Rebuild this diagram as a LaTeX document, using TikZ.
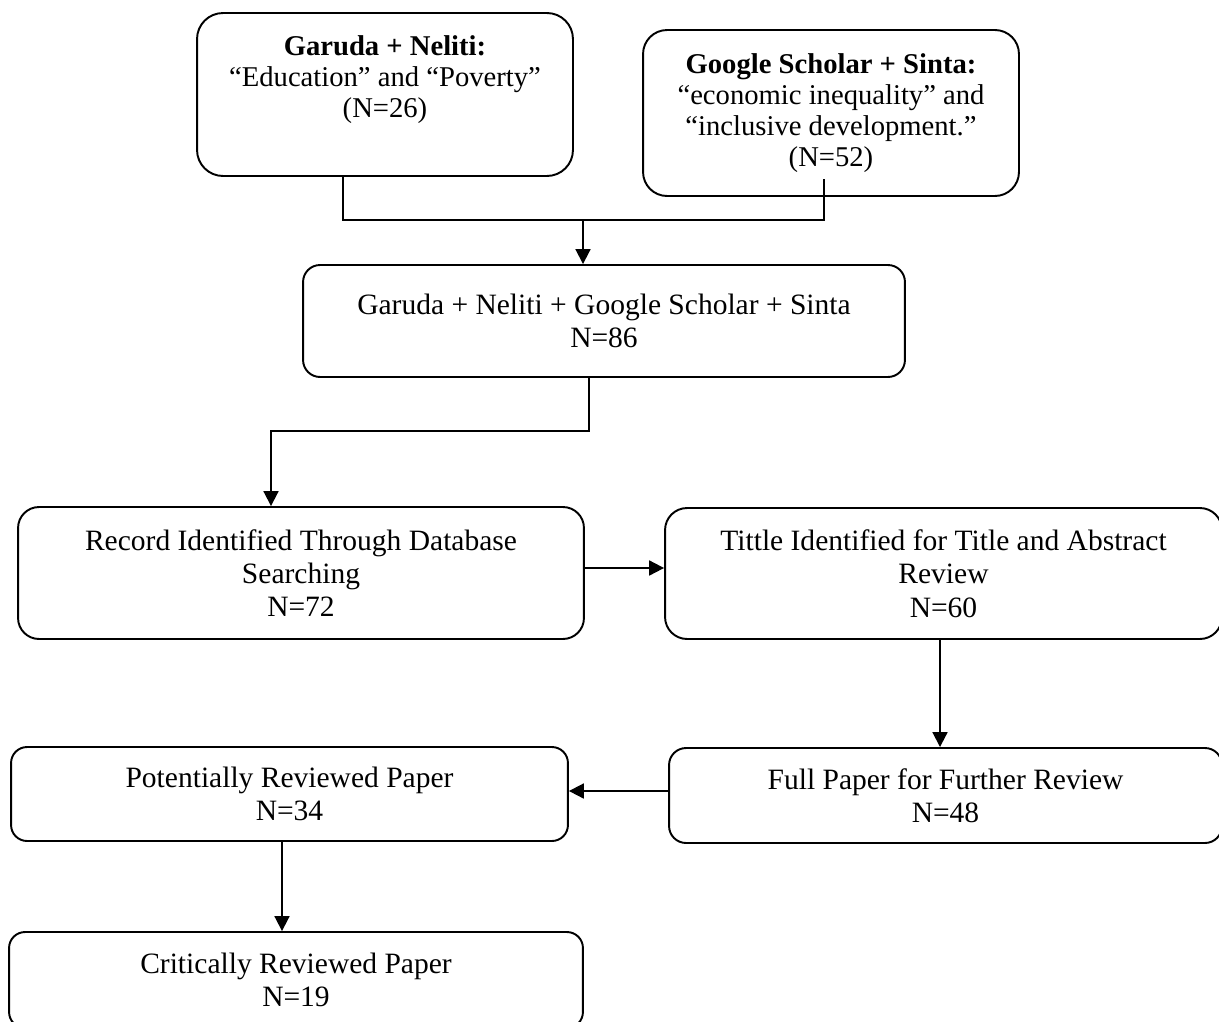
\documentclass[tikz,border=0pt]{standalone}
\usepackage{fontspec}
\setmainfont{Liberation Serif}
\usetikzlibrary{arrows.meta,calc}
\begin{document}
\begin{tikzpicture}[x=0.02cm,y=-0.02cm,
  box/.style={draw, line width=1.1pt, align=center, inner sep=0pt,
    font=\fontsize{16.8}{19}\selectfont},
  topbox/.style={box, font=\fontsize{16.3}{17.6}\selectfont},
  txt/.style={align=center, inner sep=0pt, font=\fontsize{16.3}{17.6}\selectfont},
  conn/.style={line width=1.1pt},
  arr/.style={conn, -{Triangle[length=8.5pt,width=8.5pt]}}]
\useasboundingbox (0,0) rectangle (1219,1021);
\clip (0,0) rectangle (1219,1021);

% boxes
\node[topbox, rounded corners=0.52cm, minimum width=7.52cm, minimum height=3.26cm] (garuda) at (385,94.5) {};
\node[txt] (garudatext) at (385,80) {\textbf{Garuda + Neliti:}\\“Education” and “Poverty”\\(N=26)};
\node[topbox, rounded corners=0.48cm, minimum width=7.52cm, minimum height=3.32cm] (google) at (831,113)
  {\textbf{Google Scholar + Sinta:}\\“economic inequality” and\\“inclusive development.”\\(N=52)};
\node[box, rounded corners=0.34cm, minimum width=12.04cm, minimum height=2.24cm] (comb) at (604,321)
  {Garuda + Neliti + Google Scholar + Sinta\\N=86};
\node[box, rounded corners=0.42cm, minimum width=11.32cm, minimum height=2.64cm] (record) at (301,573)
  {Record Identified Through Database\\Searching\\N=72};
\node[box, rounded corners=0.44cm, minimum width=11.14cm, minimum height=2.62cm] (tittle) at (943.5,573.5)
  {Tittle Identified for Title and Abstract\\Review\\N=60};
\node[box, rounded corners=0.34cm, minimum width=11.06cm, minimum height=1.9cm] (full) at (945.5,795.5)
  {Full Paper for Further Review\\N=48};
\node[box, rounded corners=0.32cm, minimum width=11.14cm, minimum height=1.88cm] (pot) at (289.5,794)
  {Potentially Reviewed Paper\\N=34};
\node[box, rounded corners=0.32cm, minimum width=11.48cm, minimum height=1.92cm] (crit) at (296,980)
  {Critically Reviewed Paper\\N=19};

% connectors
\coordinate (j1) at (583,220);
\draw[conn] ($(garuda.south)+(-42,0)$) |- (j1) -| ($(google.south)+(-7,-18)$);
\draw[arr] (j1) -- (j1 |- comb.north);

\coordinate (j2) at (271,431);
\draw[arr] ($(comb.south)+(-15,0)$) |- (j2) -- (j2 |- record.north);

\coordinate (r1) at ($(record.east)+(0,-5)$);
\draw[arr] (r1) -- (r1 -| tittle.west);

\coordinate (t1) at ($(tittle.south)+(-3.5,0)$);
\draw[arr] (t1) -- (t1 |- full.north);

\coordinate (f1) at ($(full.west)+(0,-4.5)$);
\draw[arr] (f1) -- (f1 -| pot.east);

\coordinate (p1) at ($(pot.south)+(-7.5,0)$);
\draw[arr] (p1) -- (p1 |- crit.north);
\end{tikzpicture}
\end{document}
